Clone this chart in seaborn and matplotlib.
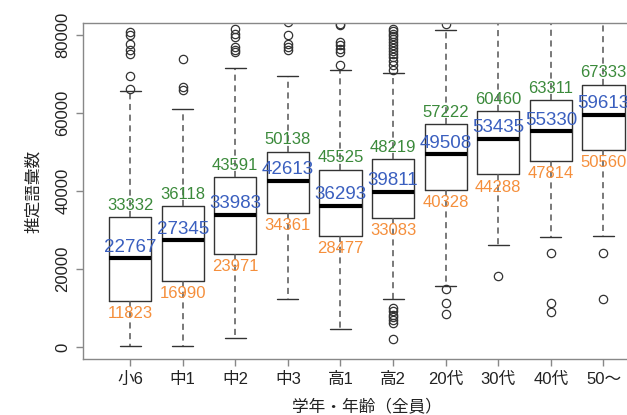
import numpy as np
import matplotlib
matplotlib.use("Agg")
import matplotlib.pyplot as plt
import seaborn as sns

# groups (school grade / age) and box statistics
groups = ["小6", "中1", "中2", "中3", "高1", "高2", "20代", "30代", "40代", "50〜"]
q1 = [11823, 16990, 23971, 34361, 28477, 33083, 40328, 44288, 47814, 50560]
med = [22767, 27345, 33983, 42613, 36293, 39811, 49508, 53435, 55330, 59613]
q3 = [33332, 36118, 43591, 50138, 45525, 48219, 57222, 60460, 63311, 67333]
whislo = [200, 300, 2400, 12400, 4500, 12200, 15700, 26200, 28300, 28500]
whishi = [65600, 61200, 71700, 69500, 71200, 70300, 81400, 84500, 86000, 90000]
fliers = [
    [66150, 69560, 75300, 76150, 77870, 80000, 80840],
    [66070, 66740, 74000],
    [75700, 76300, 76900, 79600, 80400, 81700],
    [76330, 77000, 77870, 80000, 83400],
    [72300, 75710, 76590, 77430, 78280, 82560, 83000],
    [2050, 6100, 6900, 7600, 8300, 9100, 9920,
     71000, 72300, 73300, 74300, 75200, 76000, 76800, 77600,
     78300, 79000, 79700, 80300, 81000, 81700],
    [8380, 11200, 14870, 82800],
    [18200],
    [9050, 11360, 24020],
    [12230, 24020],
]
yticks = [0, 20000, 40000, 60000, 80000]

sns.set_theme(style="white")
plt.rcParams["font.family"] = ["Liberation Sans", "Noto Sans CJK JP"]

fig = plt.figure(figsize=(6.27, 4.15), dpi=100)
ax = fig.add_axes([0.132, 0.134, 0.906, 0.811])

stats = []
for i, g in enumerate(groups):
    stats.append(dict(label=g, q1=q1[i], med=med[i], q3=q3[i],
                      whislo=whislo[i], whishi=whishi[i], fliers=fliers[i]))
positions = np.arange(1, len(groups) + 1)

ax.bxp(stats, positions=positions, widths=0.8, capwidths=0.4, showfliers=True,
       boxprops=dict(color="#333333", linewidth=1.0),
       whiskerprops=dict(color="#555555", linewidth=1.1, linestyle=(0, (4, 3))),
       capprops=dict(color="#333333", linewidth=1.0),
       medianprops=dict(color="black", linewidth=3.0, solid_capstyle="butt"),
       flierprops=dict(marker="o", markerfacecolor="none", markeredgecolor="#333333",
                       markersize=6, markeredgewidth=0.9))

# quartile / median labels
for x, a, m, b in zip(positions, q1, med, q3):
    ax.annotate(f"{b}", (x, b), xytext=(0, 5.3), textcoords="offset points",
                ha="center", va="baseline", fontsize=12, color="#3b8a3b", zorder=5)
    ax.annotate(f"{m}", (x, m), xytext=(0, 4.7), textcoords="offset points",
                ha="center", va="baseline", fontsize=13.5, color="#3a5fbf", zorder=6)
    ax.annotate(f"{a}", (x, a), xytext=(0, -12.5), textcoords="offset points",
                ha="center", va="baseline", fontsize=12, color="#f58f3c", zorder=5)

ax.set_xlim(0.1, 10.9)
ax.set_ylim(-3200, 83200)
ax.set_xticks(positions)
ax.set_xticklabels(groups, fontsize=12)
ax.set_yticks(yticks)
ax.set_yticklabels([str(v) for v in yticks], fontsize=12, rotation=90, va="center")
ax.tick_params(axis="both", direction="out", length=5, width=1, color="#888888",
               labelcolor="#222222", left=True, bottom=True)
ax.tick_params(axis="y", pad=4)
ax.tick_params(axis="x", pad=4)

ax.set_ylabel("推定語彙数", fontsize=12, color="#222222", va="center")
ax.yaxis.set_label_coords(-0.0875, 0.5)
ax.set_xlabel("学年・年齢（全員）", fontsize=12, color="#222222", va="center")
ax.xaxis.set_label_coords(0.5, -0.141)

for s in ax.spines.values():
    s.set_color("#888888")
    s.set_linewidth(1.0)

fig.savefig("out.png", dpi=100)
